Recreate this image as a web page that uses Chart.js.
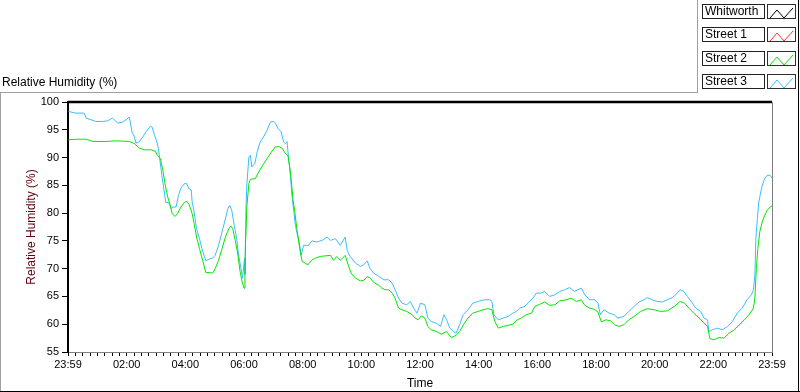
<!DOCTYPE html>
<html>
<head>
<meta charset="utf-8">
<script src="https://cdn.jsdelivr.net/npm/chart.js@4/dist/chart.umd.min.js"></script>
<style>
  body { margin: 0; background: #fff; font-family: "Liberation Sans", Arial, sans-serif; }
  #wrap { position: relative; width: 800px; height: 392px; overflow: hidden; background: #fff; }
  #grafico { position: absolute; left: 0; top: 0; }
  .linea { position: absolute; }
  #titulo { position: absolute; left: 2px; top: 75px; font-size: 12px; color: #000; white-space: nowrap; }
  .fila { position: absolute; left: 702px; height: 15px; }
  .nombre { position: absolute; left: 0; top: 0; width: 59px; height: 13px; border: 1px solid #202020;
            font-size: 12px; line-height: 13px; padding-left: 2px; box-sizing: content-box; color: #000; white-space: nowrap; overflow: hidden; }
  .muestra { position: absolute; left: 65px; top: 0; width: 27px; height: 13px; border: 1px solid #303030; background: #fff; }
</style>
</head>
<body>
<div id="wrap">
  <canvas id="grafico" width="800" height="392"></canvas>
  <div class="linea" style="left:0;top:92px;width:698px;height:1px;background:#a0a0a0"></div>
  <div class="linea" style="left:0;top:92px;width:1px;height:300px;background:#a0a0a0"></div>
  <div class="linea" style="left:697px;top:0;width:1px;height:93px;background:#a0a0a0"></div>
  <div class="linea" style="left:798px;top:0;width:1px;height:392px;background:#000"></div>
  <div class="linea" style="left:0;top:391px;width:800px;height:1px;background:#000"></div>
  <div id="titulo">Relative Humidity (%)</div>
  <div id="leyenda"></div>
</div>
<script>
// series
const nombres = ['Whitworth', 'Street 1', 'Street 2', 'Street 3'];
const colores = ['#000000', '#ff3030', '#00e600', '#3cbcff'];

// minutos desde 23:59 del dia anterior
const whitworthMin = [0, 1440];
const whitworthHR = [100, 100];

const street1Min = [];
const street1HR = [];

const street2Min = [1, 16, 37, 51, 78, 98, 125, 136, 146, 156, 170, 179, 183, 189, 194, 199, 204, 209, 213, 219,
  224, 231, 238, 243, 248, 254, 258, 263, 269, 276, 282, 289, 296, 301, 308, 315, 322, 329, 333, 337,
  342, 347, 352, 356, 360, 362, 363, 366, 370, 373, 383, 390, 398, 407, 416, 424, 431, 438, 443, 450,
  453, 457, 460, 464, 468, 472, 475, 479, 485, 491, 498, 506, 516, 526, 537, 543, 550, 557, 567, 573,
  579, 588, 598, 605, 612, 618, 627, 636, 642, 649, 656, 663, 669, 676, 683, 693, 704, 710, 716, 723,
  730, 736, 743, 753, 764, 774, 784, 794, 801, 811, 818, 828, 839, 849, 859, 867, 873, 880, 890, 900,
  910, 919, 927, 937, 948, 955, 965, 975, 985, 996, 1006, 1019, 1029, 1040, 1050, 1057, 1067, 1076, 1084, 1091,
  1100, 1110, 1118, 1127, 1137, 1147, 1158, 1171, 1185, 1199, 1212, 1226, 1240, 1252, 1261, 1270, 1280, 1291, 1301, 1308,
  1313, 1321, 1332, 1342, 1352, 1363, 1373, 1383, 1393, 1402, 1405, 1408, 1411, 1415, 1420, 1425, 1430, 1436, 1440];
const street2HR = [93.2, 93.3, 93.3, 92.9, 92.9, 93.0, 92.9, 92.5, 91.7, 91.4, 91.4, 91.1, 90.4, 89.8, 87.7, 85.0, 82.9, 81.4, 79.9, 79.4,
  79.9, 81.1, 81.9, 82.1, 81.5, 79.9, 78.1, 75.7, 73.6, 71.3, 69.3, 69.3, 69.2, 70.0, 71.5, 73.6, 75.7, 77.2, 77.7, 77.2,
  75.1, 72.8, 69.5, 67.7, 66.5, 69.5, 74.2, 81.4, 85.3, 86.1, 86.2, 87.4, 88.6, 89.8, 91.0, 91.9, 92.0, 91.7, 90.9, 90.3,
  88.6, 85.6, 82.6, 80.2, 77.2, 74.8, 73.1, 71.3, 71.0, 70.7, 71.5, 71.9, 72.2, 72.3, 72.4, 71.5, 72.2, 71.5, 72.4, 70.7,
  69.2, 68.3, 67.8, 67.9, 68.6, 68.3, 67.4, 67.0, 66.5, 66.2, 66.2, 65.6, 64.7, 62.9, 62.6, 62.3, 61.7, 61.1, 60.8, 61.5,
  61.1, 59.6, 59.0, 58.7, 58.2, 58.7, 57.6, 58.0, 58.7, 60.2, 61.1, 62.0, 62.3, 62.6, 62.8, 62.6, 60.5, 59.3, 59.6, 59.8,
  60.0, 60.8, 61.1, 61.7, 62.0, 63.2, 63.6, 64.0, 63.4, 63.5, 64.2, 64.4, 64.7, 64.1, 64.4, 63.4, 62.9, 62.7, 62.2, 60.4,
  60.8, 60.6, 59.9, 59.6, 59.9, 60.8, 61.4, 62.3, 62.8, 62.6, 62.3, 62.4, 63.2, 64.1, 63.8, 62.9, 62.0, 61.1, 60.2, 59.6,
  57.4, 57.2, 57.6, 57.5, 58.4, 59.0, 59.9, 60.8, 61.7, 62.9, 64.7, 70.0, 73.6, 76.6, 78.4, 79.6, 80.5, 81.1, 81.3];

const street3Min = [1, 16, 33, 37, 47, 57, 71, 81, 91, 102, 112, 119, 125, 127, 131, 136, 139, 145, 153, 160,
  168, 172, 177, 181, 185, 188, 192, 197, 200, 206, 211, 215, 221, 226, 231, 238, 243, 247, 252, 254,
  258, 263, 269, 274, 279, 282, 288, 296, 301, 308, 315, 322, 327, 331, 335, 340, 345, 349, 354, 357,
  361, 362, 364, 366, 370, 373, 376, 382, 387, 393, 400, 407, 414, 421, 424, 430, 436, 441, 445, 448,
  451, 455, 458, 462, 465, 468, 473, 477, 482, 492, 499, 509, 520, 530, 537, 547, 557, 567, 571, 577,
  588, 598, 605, 612, 618, 625, 636, 646, 656, 663, 669, 676, 683, 693, 700, 707, 714, 721, 730, 736,
  743, 753, 762, 769, 774, 781, 788, 794, 801, 808, 818, 828, 839, 852, 863, 867, 871, 880, 890, 900,
  910, 917, 924, 934, 941, 951, 958, 968, 975, 985, 996, 1006, 1016, 1026, 1036, 1050, 1057, 1067, 1077, 1084,
  1089, 1096, 1107, 1117, 1125, 1137, 1147, 1158, 1168, 1178, 1185, 1195, 1205, 1216, 1226, 1236, 1243, 1252, 1260, 1267,
  1275, 1284, 1294, 1301, 1308, 1311, 1318, 1328, 1338, 1349, 1359, 1369, 1379, 1389, 1398, 1402, 1405, 1407, 1410, 1413,
  1417, 1420, 1425, 1430, 1436, 1440];
const street3HR = [98.3, 98.0, 98.0, 97.1, 96.8, 96.5, 96.5, 96.6, 97.1, 96.2, 96.4, 96.8, 97.3, 96.6, 94.6, 93.7, 92.6, 92.8, 93.7, 94.7,
  95.6, 95.5, 94.0, 93.1, 91.6, 89.5, 86.8, 83.8, 81.9, 81.9, 80.8, 81.1, 81.1, 83.2, 84.5, 85.3, 85.3, 84.4, 84.2, 82.0,
  80.2, 77.2, 75.4, 73.6, 72.2, 71.4, 71.7, 71.9, 72.4, 74.2, 76.6, 79.0, 80.8, 81.4, 80.5, 77.8, 75.4, 72.4, 70.0, 68.3,
  71.9, 69.0, 80.8, 85.3, 90.1, 90.4, 88.3, 88.9, 91.0, 92.8, 93.7, 94.9, 96.4, 96.5, 96.2, 95.2, 94.6, 92.8, 92.5, 92.9,
  90.1, 86.8, 83.2, 80.2, 77.8, 76.6, 74.8, 72.4, 74.2, 74.2, 75.0, 74.8, 75.1, 75.7, 75.1, 75.4, 74.2, 75.7, 73.3, 72.2,
  71.0, 70.4, 70.7, 71.4, 70.0, 69.2, 68.6, 68.0, 68.0, 67.4, 66.2, 64.7, 63.8, 63.5, 64.1, 62.9, 62.0, 63.8, 63.5, 61.1,
  60.5, 60.2, 59.6, 61.7, 60.9, 59.3, 58.7, 58.4, 59.9, 61.7, 62.6, 63.8, 64.1, 64.4, 64.4, 64.1, 61.7, 60.8, 61.1, 61.4,
  62.0, 62.3, 62.9, 63.2, 63.8, 64.7, 65.6, 65.6, 65.9, 65.0, 65.3, 65.9, 66.2, 66.6, 65.9, 66.5, 65.3, 64.4, 64.4, 63.8,
  61.7, 62.6, 62.0, 61.7, 61.1, 61.4, 62.3, 63.2, 64.0, 64.4, 64.8, 64.4, 64.1, 64.0, 64.4, 64.8, 65.3, 66.2, 65.9, 65.0,
  64.1, 62.9, 62.3, 61.1, 60.8, 58.7, 59.0, 59.3, 59.0, 59.6, 60.5, 62.0, 62.9, 64.4, 65.3, 66.2, 68.9, 75.4, 79.0, 82.0,
  83.8, 85.0, 86.2, 86.8, 86.8, 86.3];

// etiquetas del eje x cada 2 horas
const etiquetasHora = ['23:59', '02:00', '04:00', '06:00', '08:00', '10:00', '12:00', '14:00', '16:00', '18:00', '20:00', '22:00', '23:59'];

function puntos(xs, ys) {
  return xs.map((x, i) => ({ x: x, y: ys[i] }));
}

// leyenda
let leyenda = document.getElementById('leyenda');
nombres.forEach((n, i) => {
  let fila = document.createElement('div');
  fila.className = 'fila';
  fila.style.top = (4 + i * 23.3) + 'px';
  fila.innerHTML = '<div class="nombre">' + n + '</div>' +
    '<div class="muestra"><svg width="27" height="13"><polyline points="2,12 9,4 16,12 25,2" fill="none" stroke="' +
    colores[i] + '" stroke-width="1"/></svg></div>';
  leyenda.appendChild(fila);
});

const bordeDerecho = {
  id: 'bordeDerecho',
  afterDraw(chart) {
    const a = chart.chartArea;
    const c = chart.ctx;
    c.save();
    c.strokeStyle = '#808080';
    c.lineWidth = 1;
    c.beginPath();
    c.moveTo(Math.round(a.right) + 0.5, a.top);
    c.lineTo(Math.round(a.right) + 0.5, a.bottom + 1);
    c.stroke();
    c.restore();
  }
};

let grafica = document.getElementById('grafico').getContext('2d');
let parametros = {
  type: 'line',
  data: {
    datasets: [
      { label: nombres[3], data: puntos(street3Min, street3HR), borderColor: colores[3], order: 3 },
      { label: nombres[2], data: puntos(street2Min, street2HR), borderColor: colores[2], order: 2 },
      { label: nombres[1], data: puntos(street1Min, street1HR), borderColor: colores[1], order: 1 },
      { label: nombres[0], data: puntos(whitworthMin, whitworthHR), borderColor: colores[0], borderWidth: 2.5, clip: false, order: 0 }
    ]
  },
  options: {
    responsive: false,
    animation: false,
    layout: { padding: { left: 0, top: 102, right: 28, bottom: 0 } },
    elements: { point: { radius: 0 }, line: { borderWidth: 1, tension: 0 } },
    plugins: { legend: { display: false }, tooltip: { enabled: false } },
    scales: {
      x: {
        type: 'linear', min: 0, max: 1440,
        afterFit: s => { s.height = 40; },
        ticks: {
          stepSize: 15, autoSkip: false, maxRotation: 0, padding: 2,
          color: '#000', font: { family: 'Liberation Sans', size: 11 },
          callback: v => (v % 120 === 0 ? etiquetasHora[v / 120] : '')
        },
        grid: { drawOnChartArea: false, tickLength: 4, color: '#000' },
        border: { color: '#808080', width: 1 },
        title: { display: true, text: 'Time', color: '#000', font: { family: 'Liberation Sans', size: 12 }, padding: { top: 0, bottom: 1 } }
      },
      y: {
        min: 55, max: 100,
        afterFit: s => { s.width = 68; },
        ticks: { stepSize: 5, padding: 3, color: '#000', font: { family: 'Liberation Sans', size: 11 } },
        grid: { drawOnChartArea: false, tickLength: 6, color: '#000' },
        border: { color: '#000', width: 2 },
        title: { display: true, text: 'Relative Humidity (%)', color: '#600010', font: { family: 'Liberation Sans', size: 12 }, padding: { top: 24, bottom: 0 } }
      }
    }
  },
  plugins: [bordeDerecho]
};
var humedad = new Chart(grafica, parametros);
</script>
</body>
</html>
